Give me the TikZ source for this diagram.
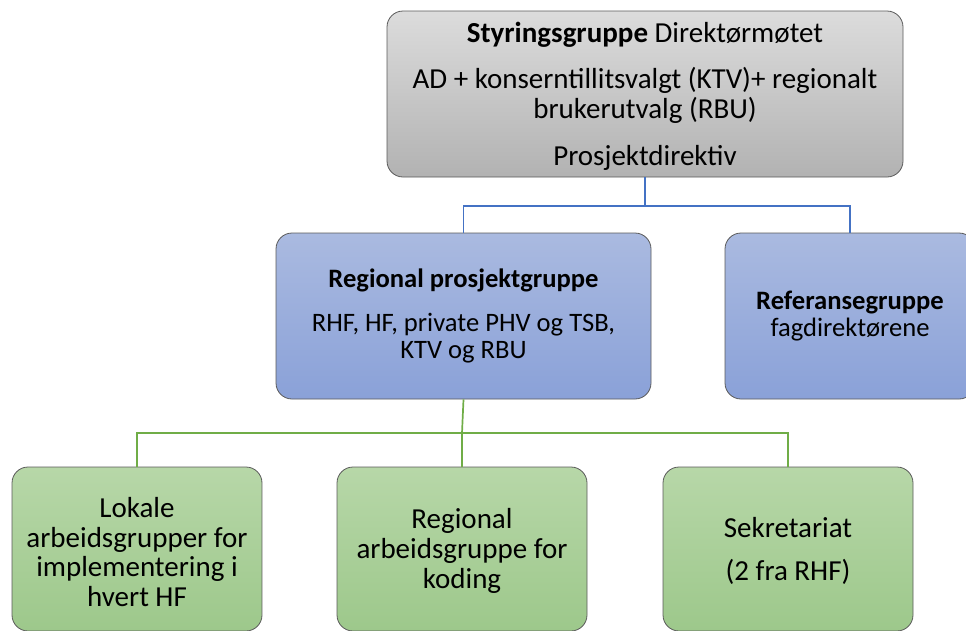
\documentclass[tikz,border=0pt]{standalone}
\usepackage{fontspec}
\setmainfont{Carlito}
\definecolor{bluetop}{RGB}{170,186,224}
\definecolor{bluebot}{RGB}{138,161,216}
\definecolor{greentop}{RGB}{183,215,168}
\definecolor{greenbot}{RGB}{157,200,139}
\definecolor{graytop}{RGB}{220,220,220}
\definecolor{graybot}{RGB}{178,178,178}
\definecolor{bline}{RGB}{68,114,196}
\definecolor{gline}{RGB}{112,173,71}
\definecolor{edge}{RGB}{90,90,90}
\begin{document}
\begin{tikzpicture}[x=1pt,y=-1pt,
  box/.style={draw=edge,line width=0.8pt,rounded corners=16pt,align=center,inner sep=0pt},
  graybox/.style={box,top color=graytop,bottom color=graybot},
  bluebox/.style={box,top color=bluetop,bottom color=bluebot},
  greenbox/.style={box,top color=greentop,bottom color=greenbot},
  bigtxt/.style={font=\fontsize{29}{29.6}\selectfont},
  midtxt/.style={font=\fontsize{26.6}{27.5}\selectfont},
  blueline/.style={draw=bline,line width=1.7pt},
  greenline/.style={draw=gline,line width=1.7pt}]
\useasboundingbox (0,0) rectangle (966,630);
\clip (0,0) rectangle (966,630);
\node[graybox,minimum width=516pt,minimum height=166pt] (top) at (645,94) {};
\node[bigtxt,align=center,inner sep=0pt] (toptxt) at (645,96)
  {\textbf{Styringsgruppe} Direktørmøtet\\[17pt]AD + konserntillitsvalgt (KTV)+ regionalt\\brukerutvalg (RBU)\\[17pt]Prosjektdirektiv};
\node[bluebox,midtxt,minimum width=375pt,minimum height=166pt] (rpg) at (463.5,316)
  {\textbf{Regional prosjektgruppe}\\[16pt]RHF, HF, private PHV og TSB,\\KTV og RBU};
\node[bluebox,midtxt,minimum width=250pt,minimum height=166pt] (ref) at (850,316)
  {\textbf{Referansegruppe}\\fagdirektørene};
\node[greenbox,minimum width=250pt,minimum height=164pt] (lok) at (137,549) {};
\node[bigtxt,align=center,inner sep=0pt] (loktxt) at (137,552)
  {Lokale\\arbeidsgrupper for\\implementering i\\hvert HF};
\node[greenbox,minimum width=250pt,minimum height=164pt] (reg) at (462,549) {};
\node[bigtxt,align=center,inner sep=0pt] (regtxt) at (462,551)
  {Regional\\arbeidsgruppe for\\koding};
\node[greenbox,minimum width=250pt,minimum height=164pt] (sek) at (788,549) {};
\node[bigtxt,align=center,inner sep=0pt] (sektxt) at (788,551)
  {Sekretariat\\[13pt](2 fra RHF)};
\coordinate (bj) at (645,206);
\coordinate (gj) at (462,433);
\draw[blueline] (top.south) -- (bj);
\draw[blueline] (bj) -| (rpg.north);
\draw[blueline] (bj) -| (ref.north);
\draw[greenline] (rpg.south) -- (gj);
\draw[greenline] (gj) -| (lok.north);
\draw[greenline] (gj) -- (reg.north);
\draw[greenline] (gj) -| (sek.north);
\end{tikzpicture}
\end{document}
